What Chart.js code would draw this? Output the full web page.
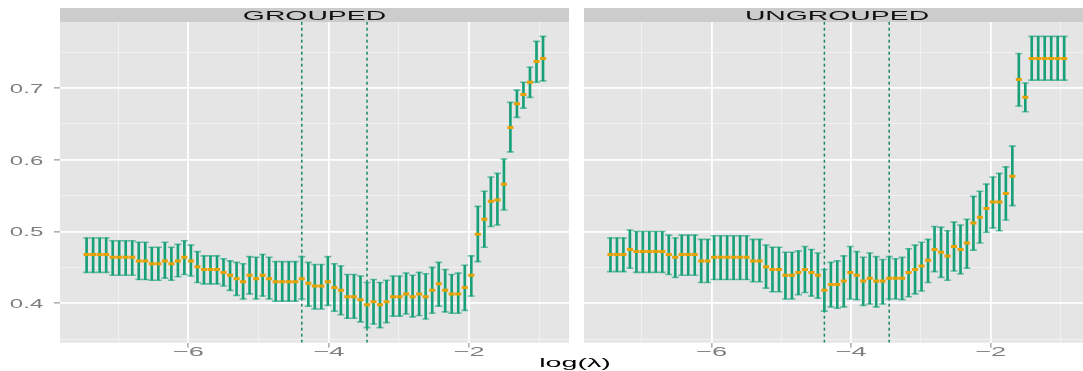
<!DOCTYPE html>
<html>
<head>
<meta charset="utf-8">
<script src="https://cdn.jsdelivr.net/npm/chart.js@4.4.0/dist/chart.umd.min.js"></script>
<style>
  html, body { margin: 0; padding: 0; background: #fff; overflow: hidden; }
  #wrap { position: relative; width: 1083px; height: 371px; overflow: hidden; }
  #left { position: absolute; left: 0; top: 0; }
  #right { position: absolute; left: 577px; top: 0; }
  #xtitle {
    position: absolute; left: 575px; top: 355px;
    font: 13px/15px "Liberation Sans", Arial, sans-serif; color: #000;
    transform: translateX(-50%) scaleX(2.2); white-space: nowrap;
  }
</style>
</head>
<body>
<div id="wrap">
  <canvas id="left" width="576" height="371"></canvas>
  <canvas id="right" width="520" height="371"></canvas>
  <div id="xtitle">log(λ)</div>
</div>
<script>
// lambda path (log scale), shared by both panels
const logLambda = [
  -7.450, -7.357, -7.264, -7.171, -7.078, -6.986, -6.893, -6.800, -6.707, -6.614,
  -6.521, -6.428, -6.335, -6.242, -6.149, -6.057, -5.964, -5.871, -5.778, -5.685,
  -5.592, -5.499, -5.406, -5.313, -5.220, -5.128, -5.035, -4.942, -4.849, -4.756,
  -4.663, -4.570, -4.477, -4.384, -4.291, -4.199, -4.106, -4.013, -3.920, -3.827,
  -3.734, -3.641, -3.548, -3.455, -3.362, -3.270, -3.177, -3.084, -2.991, -2.898,
  -2.805, -2.712, -2.619, -2.526, -2.433, -2.341, -2.248, -2.155, -2.062, -1.969,
  -1.876, -1.783, -1.690, -1.597, -1.504, -1.412, -1.319, -1.226, -1.133, -1.040,
  -0.947
];

const groupedMean = [
  .468, .468, .468, .468, .464, .464, .464, .464, .459, .459,
  .455, .455, .459, .455, .459, .464, .459, .451, .447, .447,
  .447, .443, .439, .434, .430, .439, .434, .439, .434, .430,
  .430, .430, .430, .434, .428, .424, .424, .430, .422, .418,
  .409, .409, .405, .398, .402, .398, .402, .409, .409, .413,
  .409, .413, .409, .418, .427, .418, .413, .413, .422, .439,
  .496, .517, .542, .544, .566, .645, .678, .691, .708, .737,
  .741
];
const groupedLower = [
  .443, .443, .443, .443, .439, .439, .439, .439, .433, .433,
  .432, .432, .435, .432, .437, .440, .438, .429, .427, .427,
  .427, .424, .418, .411, .406, .413, .406, .410, .406, .403,
  .403, .403, .403, .406, .396, .392, .392, .397, .389, .384,
  .379, .379, .374, .366, .371, .366, .373, .382, .382, .385,
  .381, .383, .378, .386, .396, .388, .386, .386, .390, .410,
  .458, .478, .507, .509, .530, .611, .659, .672, .687, .708,
  .710
];
const groupedUpper = [
  .491, .491, .491, .491, .487, .487, .487, .487, .485, .485,
  .478, .478, .485, .478, .482, .487, .481, .472, .466, .466,
  .466, .462, .459, .457, .455, .465, .464, .468, .464, .458,
  .458, .458, .458, .465, .457, .454, .454, .465, .455, .452,
  .440, .440, .438, .429, .433, .429, .432, .438, .438, .442,
  .439, .443, .441, .450, .457, .447, .440, .442, .453, .466,
  .535, .556, .576, .581, .601, .680, .697, .708, .729, .765,
  .772
];

const ungroupedMean = [
  .468, .468, .468, .475, .472, .472, .472, .472, .472, .468,
  .464, .468, .468, .468, .459, .459, .464, .464, .464, .464,
  .464, .464, .459, .459, .451, .447, .447, .439, .439, .443,
  .447, .443, .439, .418, .426, .426, .431, .443, .439, .431,
  .435, .431, .431, .435, .435, .435, .443, .447, .452, .460,
  .475, .471, .466, .479, .475, .484, .512, .520, .532, .541,
  .541, .553, .577, .712, .687, .741, .741, .741, .741, .741,
  .741
];
const ungroupedLower = [
  .444, .444, .444, .449, .443, .443, .443, .443, .443, .440,
  .436, .439, .439, .439, .429, .429, .433, .433, .433, .433,
  .433, .433, .430, .430, .421, .416, .416, .406, .406, .412,
  .415, .410, .407, .389, .395, .393, .395, .406, .405, .397,
  .399, .395, .399, .406, .406, .405, .409, .413, .417, .429,
  .444, .436, .432, .445, .441, .449, .474, .484, .499, .505,
  .501, .516, .536, .675, .667, .711, .711, .711, .711, .711,
  .711
];
const ungroupedUpper = [
  .491, .491, .491, .502, .500, .500, .500, .500, .500, .495,
  .491, .495, .495, .495, .489, .489, .494, .494, .494, .494,
  .494, .494, .489, .489, .481, .478, .478, .471, .471, .473,
  .479, .475, .470, .447, .457, .459, .466, .479, .472, .464,
  .470, .465, .461, .465, .462, .464, .476, .481, .485, .489,
  .507, .506, .501, .513, .509, .517, .549, .556, .566, .576,
  .581, .590, .619, .748, .707, .772, .772, .772, .772, .772,
  .772
];

// lambda.min / lambda.1se
const cutoffs = [-4.384, -3.455];
const panelTitles = ['GROUPED', 'UNGROUPED'];
const xLimits = [-7.829, -0.577];
const yLimits = [0.345, 0.792];

const GREEN = '#18a078';
const CAP = 'rgba(24,160,120,0.6)';
const ORANGE = '#e6a100';
const VLINE = '#17875f';
const FONT = '"Liberation Sans", Arial, sans-serif';

const isMajorX = v => Math.round(v) % 2 === 0;
const isMajorY = v => Math.abs(v * 10 - Math.round(v * 10)) < 1e-6;

// R output is horizontally stretched, so text is drawn with a x-scale
function stretchText(ctx, text, x, y, sx, align, size, color) {
  ctx.save();
  ctx.translate(x, y);
  ctx.scale(sx, 1);
  ctx.font = size + 'px ' + FONT;
  ctx.fillStyle = color;
  ctx.textAlign = align;
  ctx.textBaseline = 'alphabetic';
  ctx.fillText(text, 0, 0);
  ctx.restore();
}

function facetPlugin(title, showY) {
  return {
    id: 'facet',
    beforeDraw(chart) {
      const { ctx, chartArea: a } = chart;
      ctx.save();
      ctx.fillStyle = '#e5e5e5';
      ctx.fillRect(a.left, a.top, a.right - a.left, a.bottom - a.top);
      ctx.fillStyle = '#cccccc';
      ctx.fillRect(a.left, a.top - 14, a.right - a.left, 14);
      ctx.restore();
    },
    afterDraw(chart) {
      const { ctx, chartArea: a, scales } = chart;
      stretchText(ctx, title, (a.left + a.right) / 2, a.top - 2, 2.25, 'center', 12.6, '#111');
      scales.x.ticks.forEach(t => {
        if (!isMajorX(t.value)) return;
        const label = (t.value < 0 ? '\u2212' : '') + Math.abs(t.value);
        stretchText(ctx, label, scales.x.getPixelForValue(t.value), a.bottom + 13, 2.1, 'center', 13, '#7f7f7f');
      });
      if (showY) {
        scales.y.ticks.forEach(t => {
          if (!isMajorY(t.value)) return;
          stretchText(ctx, t.value.toFixed(1), a.left - 16.7, scales.y.getPixelForValue(t.value) + 5, 1.85, 'right', 13, '#7f7f7f');
        });
      }
    }
  };
}

function makeChart(id, title, mean, lower, upper, showY, padLeft, padRight) {
  const datasets = [
    {
      type: 'scatter',
      data: logLambda.map((x, i) => ({ x, y: mean[i] })),
      pointStyle: 'line', pointRadius: 3, pointBorderWidth: 3,
      pointBorderColor: ORANGE, pointBackgroundColor: ORANGE
    },
    {
      type: 'scatter',
      data: logLambda.map((x, i) => ({ x, y: upper[i] })),
      pointStyle: 'line', pointRadius: 3.5, pointBorderWidth: 1.6,
      pointBorderColor: CAP, pointBackgroundColor: CAP
    },
    {
      type: 'scatter',
      data: logLambda.map((x, i) => ({ x, y: lower[i] })),
      pointStyle: 'line', pointRadius: 3.5, pointBorderWidth: 1.6,
      pointBorderColor: CAP, pointBackgroundColor: CAP
    },
    {
      type: 'bar',
      data: logLambda.map((x, i) => ({ x, y: [lower[i], upper[i]] })),
      backgroundColor: GREEN, borderWidth: 0, barThickness: 2
    }
  ];
  cutoffs.forEach(c => {
    datasets.push({
      type: 'line',
      data: [{ x: c, y: yLimits[0] }, { x: c, y: yLimits[1] }],
      borderColor: VLINE, borderWidth: 1.5, borderDash: [3, 3],
      pointRadius: 0, fill: false
    });
  });

  return new Chart(document.getElementById(id), {
    type: 'scatter',
    data: { datasets },
    plugins: [facetPlugin(title, showY)],
    options: {
      responsive: false,
      animation: false,
      devicePixelRatio: 1,
      events: [],
      layout: { padding: { top: 22, left: padLeft, right: padRight, bottom: 0 } },
      plugins: { legend: { display: false }, tooltip: { enabled: false } },
      scales: {
        x: {
          type: 'linear', min: xLimits[0], max: xLimits[1], offset: false,
          ticks: { stepSize: 1, includeBounds: false, display: false, autoSkip: false },
          grid: {
            offset: false,
            color: c => (c.tick && isMajorX(c.tick.value)) ? '#ffffff' : '#f2f2f2',
            lineWidth: c => (c.tick && isMajorX(c.tick.value)) ? 1.8 : 0.9,
            tickColor: c => (c.tick && isMajorX(c.tick.value)) ? '#7f7f7f' : 'rgba(0,0,0,0)',
            tickLength: 5, tickWidth: 1, drawTicks: true
          },
          border: { display: false },
          afterFit: s => { s.height = 28.3; }
        },
        y: {
          type: 'linear', min: yLimits[0], max: yLimits[1],
          ticks: { stepSize: 0.05, includeBounds: false, display: false, autoSkip: false },
          grid: {
            color: c => (c.tick && isMajorY(c.tick.value)) ? '#ffffff' : '#f2f2f2',
            lineWidth: c => (c.tick && isMajorY(c.tick.value)) ? 1.8 : 0.9,
            tickColor: c => (c.tick && isMajorY(c.tick.value)) ? '#7f7f7f' : 'rgba(0,0,0,0)',
            tickLength: 6, tickWidth: 1, drawTicks: showY
          },
          border: { display: false },
          afterFit: s => { s.width = showY ? 60 : 0; }
        }
      }
    }
  });
}

makeChart('left', panelTitles[0], groupedMean, groupedLower, groupedUpper, true, 0, 3.3);
makeChart('right', panelTitles[1], ungroupedMean, ungroupedLower, ungroupedUpper, false, 0.3, 7);
</script>
</body>
</html>
